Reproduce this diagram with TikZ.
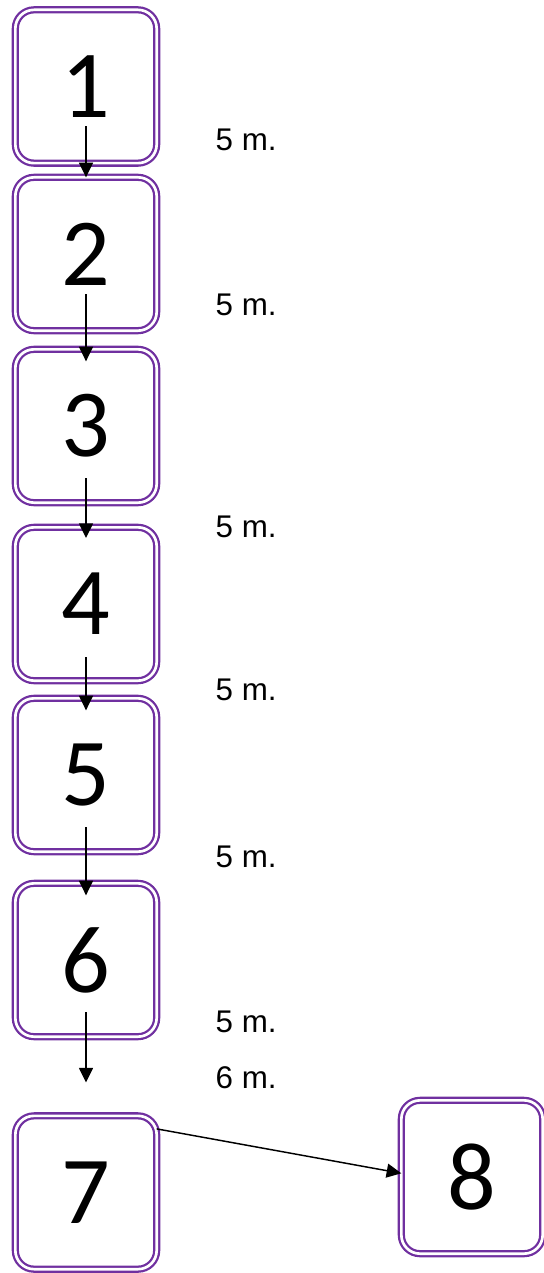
\documentclass[tikz,border=0pt]{standalone}
\usepackage{fontspec}
\setmainfont{Liberation Sans}
\newfontfamily\digitfont{Carlito}
\usetikzlibrary{arrows.meta}
\definecolor{boxpurple}{HTML}{7030A0}
\tikzset{
  stepbox/.style={draw=boxpurple, double=white, double distance=2pt, line width=1.7pt,
    rounded corners=14pt, minimum width=106pt, minimum height=115pt, outer sep=0pt,
    font=\digitfont\fontsize{72}{72}\selectfont},
  dist/.style={anchor=west, font=\fontsize{23.5}{23.5}\selectfont},
  arr/.style={-{Triangle[width=10.5pt,length=11pt]}, line width=1.1pt}
}
\begin{document}
\begin{tikzpicture}[x=0.75pt,y=-0.75pt]
\useasboundingbox (0,0) rectangle (543,1273);
\node[stepbox] (b1) at (86,86.5) {1};
\node[stepbox] (b2) at (86,254) {2};
\node[stepbox] (b3) at (86,426) {3};
\node[stepbox] (b4) at (86,604) {4};
\node[stepbox] (b5) at (86,775) {5};
\node[stepbox] (b6) at (86,960) {6};
\node[stepbox] (b7) at (86,1192.5) {7};
\node[stepbox] (b8) at (472,1177) {8};

\node[dist] (d1) at (211,140) {5 m.};
\node[dist] (d2) at (211,305) {5 m.};
\node[dist] (d3) at (211,527) {5 m.};
\node[dist] (d4) at (211,690) {5 m.};
\node[dist] (d5) at (211,857) {5 m.};
\node[dist] (d6) at (211,1022) {5 m.};
\node[dist] (d7) at (211,1078) {6 m.};

\draw[arr] ([yshift=-30pt]b1.center) -- (b2.north);
\draw[arr] ([yshift=-30pt]b2.center) -- ([yshift=-9pt]b3.north);
\draw[arr] ([yshift=-39pt]b3.center) -- ([yshift=-8pt]b4.north);
\draw[arr] ([yshift=-40pt]b4.center) -- ([yshift=-9pt]b5.north);
\draw[arr] ([yshift=-39pt]b5.center) -- ([yshift=-9pt]b6.north);
\draw[arr] ([yshift=-39pt]b6.center) -- ([yshift=25pt]b7.north);
\draw[arr] (b7.42) -- (b8.177);
\end{tikzpicture}
\end{document}
